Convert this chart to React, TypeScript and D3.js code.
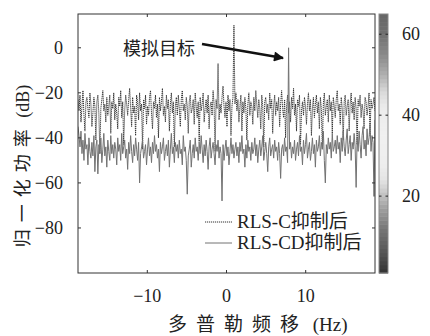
import React from "react";
import * as d3 from "d3";

const W = 430;
const H = 336;

const xTicks = [-10, 0, 10];
const yTicks = [0, -20, -40, -60, -80];
const cbTicks = [20, 40, 60];
const legendLabels = ["RLS-C抑制后", "RLS-CD抑制后"];
const annotation = "模拟目标";
const xLabelCJK = "多普勒频移";
const xLabelUnit = " (Hz)";
const yLabelCJK = "归一化功率";
const yLabelUnit = " (dB)";

const freqRange = [-18.75, 18.75];

const rlsC = [
  -23,-28,-21,-33,-26,-19,-30,-37,-24,-22,-27,-31,-20,-25,-35,-29,-22,-26,-41,-24,
  -21,-29,-47,-27,-23,-19,-28,-25,-33,-22,-30,-26,-21,-38,-24,-27,-20,-32,-25,-29,
  -36,-22,-26,-19,-31,-24,-43,-28,-21,-25,-30,-23,-18,-27,-35,-22,-29,-26,-39,-21,
  -24,-32,-20,-28,-25,-45,-23,-27,-21,-34,-26,-30,-22,-19,-29,-36,-24,-27,-21,-31,
  -25,-40,-22,-28,-24,-18,-30,-26,-33,-21,-27,-23,-37,-25,-20,-29,-24,-44,-26,-22,
  -30,-21,-27,-35,-23,-19,-28,-25,-32,-22,-26,-38,-24,-21,-29,-27,-23,-34,-20,-26,
  -31,-24,-42,-22,-28,-25,-20,-33,-27,-23,-29,-21,-36,-26,-24,-30,-19,-25,-46,-23,
  -27,-7,-32,-25,-29,-22,-17,-26,-31,-24,-35,-21,-28,-23,-39,-26,-22,10,-25,-20,
  -28,-23,-33,-26,-21,-37,-24,-29,-22,-27,-41,-25,-20,-30,-24,-26,-34,-22,-28,-19,
  -25,-31,-23,-27,-36,-21,-26,-44,-24,-22,-29,-25,-32,-20,-27,-23,-38,-26,-21,-30,
  -24,-28,-22,-35,-25,-19,-27,-31,-23,-40,-26,-21,-29,-24,-33,-22,-27,-18,-30,-25,
  -37,-23,-26,-21,-43,-28,-24,-30,-22,-26,-34,-25,-20,-28,-23,-39,-27,-22,-31,-25,
  -21,-29,-24,-36,-22,-27,-45,-25,-20,-30,-26,-23,-33,-21,-28,-24,-38,-22,-26,-31,
  -23,-19,-28,-25,-34,-22,-27,-41,-24,-21,-30,-26,-23,-37,-25,-20,-29,-24,-32,-22,
  -27,-43,-23,-26,-21,-31,-25,-28,-36,-22,-24,-30,-26,-20,-39,-23,-27,-25,-22,-28,
];

const rlsCD = [
  -35,-39,-44,-37,-47,-41,-50,-38,-45,-43,-52,-40,-46,-49,-42,-48,-39,-55,-44,-41,
  -56,-43,-47,-40,-51,-45,-38,-48,-44,-53,-41,-46,-50,-39,-47,-43,-49,-42,-45,-52,
  -40,-46,-43,-50,-38,-47,-44,-41,-49,-45,-54,-42,-47,-39,-46,-51,-43,-48,-40,-45,
  -50,-42,-60,-47,-44,-41,-49,-46,-43,-52,-45,-40,-48,-44,-51,-42,-47,-39,-46,-43,
  -49,-45,-55,-42,-47,-44,-40,-50,-46,-43,-48,-41,-53,-45,-38,-47,-44,-51,-42,-46,
  -43,-49,-41,-47,-45,-52,-39,-46,-44,-50,-65,-48,-45,-41,-53,-47,-43,-49,-40,-46,
  -44,-50,-42,-47,-39,-45,-51,-43,-48,-41,-46,-54,-44,-40,-49,-45,-42,-47,-52,-43,
  -46,-41,-49,-44,-47,-68,-43,-50,-45,-41,-48,-44,-52,-46,-40,-47,-43,-49,-45,-42,
  -48,-44,-51,-42,-46,-39,-47,-45,-53,-43,-49,-41,-46,-44,-50,-42,-47,-45,-40,-48,
  -43,-51,-45,-41,-48,-44,-39,-50,-46,-42,-47,-55,-44,-40,-48,-45,-43,-49,-41,-46,
  -44,-50,-42,-47,-58,-45,-43,-48,-40,-46,-44,-51,0,-45,-42,-49,-44,-47,-41,-50,
  -45,-42,-48,-39,-46,-44,-52,-41,-47,-43,-38,-49,-45,-42,-50,-46,-40,-47,-43,-53,
  -41,-46,-44,-39,-48,-42,-45,-37,-50,-60,-43,-47,-40,-45,-42,-49,-38,-46,-44,-41,
  -47,-39,-45,-42,-51,-40,-46,-37,-44,-48,-41,-36,-47,-43,-39,-50,-42,-45,-38,-44,
  -62,-40,-46,-37,-43,-49,-39,-35,-45,-41,-48,-36,-43,-40,-34,-46,-39,-42,-66,-32,
];

// colorbar gray stops (value, gray)
const cbStops: [number, string][] = [
  [1, "#333333"], [6, "#555555"], [12, "#777777"], [17, "#a0a0a0"], [21, "#c8c8c8"],
  [24, "#e4e4e4"], [28, "#eeeeee"], [35, "#f0f0f0"], [42, "#ececec"], [46, "#d8d8d8"],
  [50, "#b0b0b0"], [55, "#8a8a8a"], [60, "#707070"], [65, "#666666"],
];
const cbDomain = [1, 65];

const FONT = "'Liberation Serif', 'Noto Sans CJK SC', serif";

export default function App() {
  const left = 78, right = 375, top = 14, bottom = 273;
  const x = d3.scaleLinear().domain(freqRange).range([left, right]);
  const y = d3.scaleLinear().domain([-100, 15]).range([bottom, top]);
  const n = rlsC.length;
  const step = (freqRange[1] - freqRange[0]) / (n - 1);
  const line = d3
    .line<number>()
    .x((_, i) => x(freqRange[0] + i * step))
    .y((d) => y(d));

  const cbX0 = 379, cbX1 = 388;
  const cy = d3.scaleLinear().domain(cbDomain).range([bottom, top]);
  const cColor = d3
    .scaleLinear<string>()
    .domain(cbStops.map((s) => s[0]))
    .range(cbStops.map((s) => s[1]));
  const bands = 64;
  const bandVals = d3.range(bands).map((i) => cbDomain[0] + ((i + 0.5) * (cbDomain[1] - cbDomain[0])) / bands);
  const bandH = (bottom - top) / bands;

  const tl = 3;
  return (
    <svg width={W} height={H} style={{ position: "absolute", left: 0, top: 0, background: "#fff" }}>
      <defs>
        <clipPath id="plotclip">
          <rect x={left} y={top} width={right - left} height={bottom - top} />
        </clipPath>
        <marker id="ah" viewBox="0 0 10 10" refX="9" refY="5" markerWidth="4.5" markerHeight="4" orient="auto" markerUnits="strokeWidth">
          <path d="M0,0 L10,5 L0,10 Z" fill="#111" />
        </marker>
      </defs>
      <g clipPath="url(#plotclip)">
        <path d={line(rlsC) || ""} fill="none" stroke="#333" strokeWidth={1} strokeDasharray="1.2,0.8" />
        <path d={line(rlsCD) || ""} fill="none" stroke="#727272" strokeWidth={1} />
      </g>
      <rect x={left} y={top} width={right - left} height={bottom - top} fill="none" stroke="#333" strokeWidth={1} />
      {xTicks.map((t) => (
        <g key={"xt" + t}>
          <line x1={x(t)} x2={x(t)} y1={bottom} y2={bottom - tl} stroke="#333" />
          <line x1={x(t)} x2={x(t)} y1={top} y2={top + tl} stroke="#333" />
          <text x={x(t)} y={302} textAnchor="middle" fontFamily={FONT} fontSize={18} fill="#222">
            {t < 0 ? "\u2212" + Math.abs(t) : t}
          </text>
        </g>
      ))}
      {yTicks.map((t) => (
        <g key={"yt" + t}>
          <line x1={left} x2={left + tl} y1={y(t)} y2={y(t)} stroke="#333" />
          <line x1={right} x2={right - tl} y1={y(t)} y2={y(t)} stroke="#333" />
          <text x={63} y={y(t) + 6} textAnchor="end" fontFamily={FONT} fontSize={18} fill="#222">
            {t < 0 ? "\u2212" + Math.abs(t) : t}
          </text>
        </g>
      ))}
      <text x={123} y={55} fontFamily={FONT} fontSize={18} fill="#222">{annotation}</text>
      <line x1={202} y1={44} x2={283} y2={58} stroke="#111" strokeWidth={2.5} markerEnd="url(#ah)" />
      <line x1={205} x2={232} y1={222} y2={222} stroke="#333" strokeWidth={1} strokeDasharray="1.2,0.8" />
      <text x={237} y={228} fontFamily={FONT} fontSize={19} fill="#222">{legendLabels[0]}</text>
      <line x1={205} x2={232} y1={243} y2={243} stroke="#727272" strokeWidth={1} />
      <text x={237} y={249} fontFamily={FONT} fontSize={19} fill="#222">{legendLabels[1]}</text>
      {bandVals.map((v, i) => (
        <rect key={"cb" + i} x={cbX0} width={cbX1 - cbX0} y={bottom - (i + 1) * bandH} height={bandH + 0.5} fill={cColor(v)} />
      ))}
      <rect x={cbX0} y={top} width={cbX1 - cbX0} height={bottom - top} fill="none" stroke="#888" strokeWidth={1} />
      {cbTicks.map((t) => (
        <g key={"cbt" + t}>
          <line x1={cbX0} x2={cbX0 + 2.5} y1={cy(t)} y2={cy(t)} stroke="#222" />
          <line x1={cbX1} x2={cbX1 - 2.5} y1={cy(t)} y2={cy(t)} stroke="#222" />
          <text x={402} y={cy(t) + 6} fontFamily={FONT} fontSize={18} fill="#222">{t}</text>
        </g>
      ))}
      <text x={168} y={331} fontFamily={FONT} fontSize={19} fill="#222">
        <tspan letterSpacing={9}>{xLabelCJK}</tspan>
        <tspan>{xLabelUnit}</tspan>
      </text>
      <text transform={`translate(29,166) rotate(-90)`} textAnchor="middle" fontFamily={FONT} fontSize={18} fill="#222">
        <tspan letterSpacing={7}>{yLabelCJK}</tspan>
        <tspan>{yLabelUnit}</tspan>
      </text>
    </svg>
  );
}
